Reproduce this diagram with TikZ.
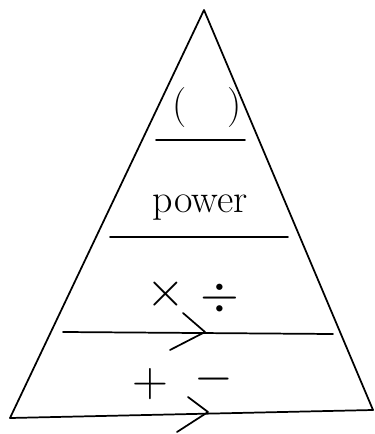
\documentclass[tikz,border=0pt]{standalone}
\usepackage{amsmath, amssymb}
\usepackage{tikz}
\usetikzlibrary{positioning}

\begin{document}
\begin{tikzpicture}[x=0.75pt, y=-0.75pt, line width=1.3pt, line cap=round, line join=round,
  every node/.style={font=\fontsize{30}{32}\selectfont}]

\useasboundingbox (0,0) rectangle (374,434);

% Triangle
\coordinate (top) at (204,10);
\coordinate (bl) at (10,418);
\coordinate (br) at (373,410);
\draw (bl) -- (top) -- (br);

% Level lines
\coordinate (l1a) at (156,140);
\coordinate (l1b) at (245,140);
\coordinate (l2a) at (110,237);
\coordinate (l2b) at (288,237);
\coordinate (l3a) at (63,332);
\coordinate (l3b) at (333,334);
\draw (l1a) -- (l1b);
\draw (l2a) -- (l2b);
\draw (l3a) -- (l3b);
\draw (bl) -- (br);

% Chevrons
\coordinate (c1) at (205,332);
\coordinate (c2) at (208,412);
\draw (183,313) -- (c1) -- (170,350);
\draw (188,397) -- (c2) -- (177,432);

% Labels
\node at (207,108) (brackets) {(\quad)};
\node at (200,208) (power) {power};
\node at (166,294) (times) {\scalebox{1.5}{$\times$}};
\node at (220,298) (divide) {\scalebox{1.5}{$\div$}};
\node at (150,384) (plus) {\scalebox{1.5}{$+$}};
\node at (214,379) (minus) {\scalebox{1.5}{$-$}};

\end{tikzpicture}
\end{document}
